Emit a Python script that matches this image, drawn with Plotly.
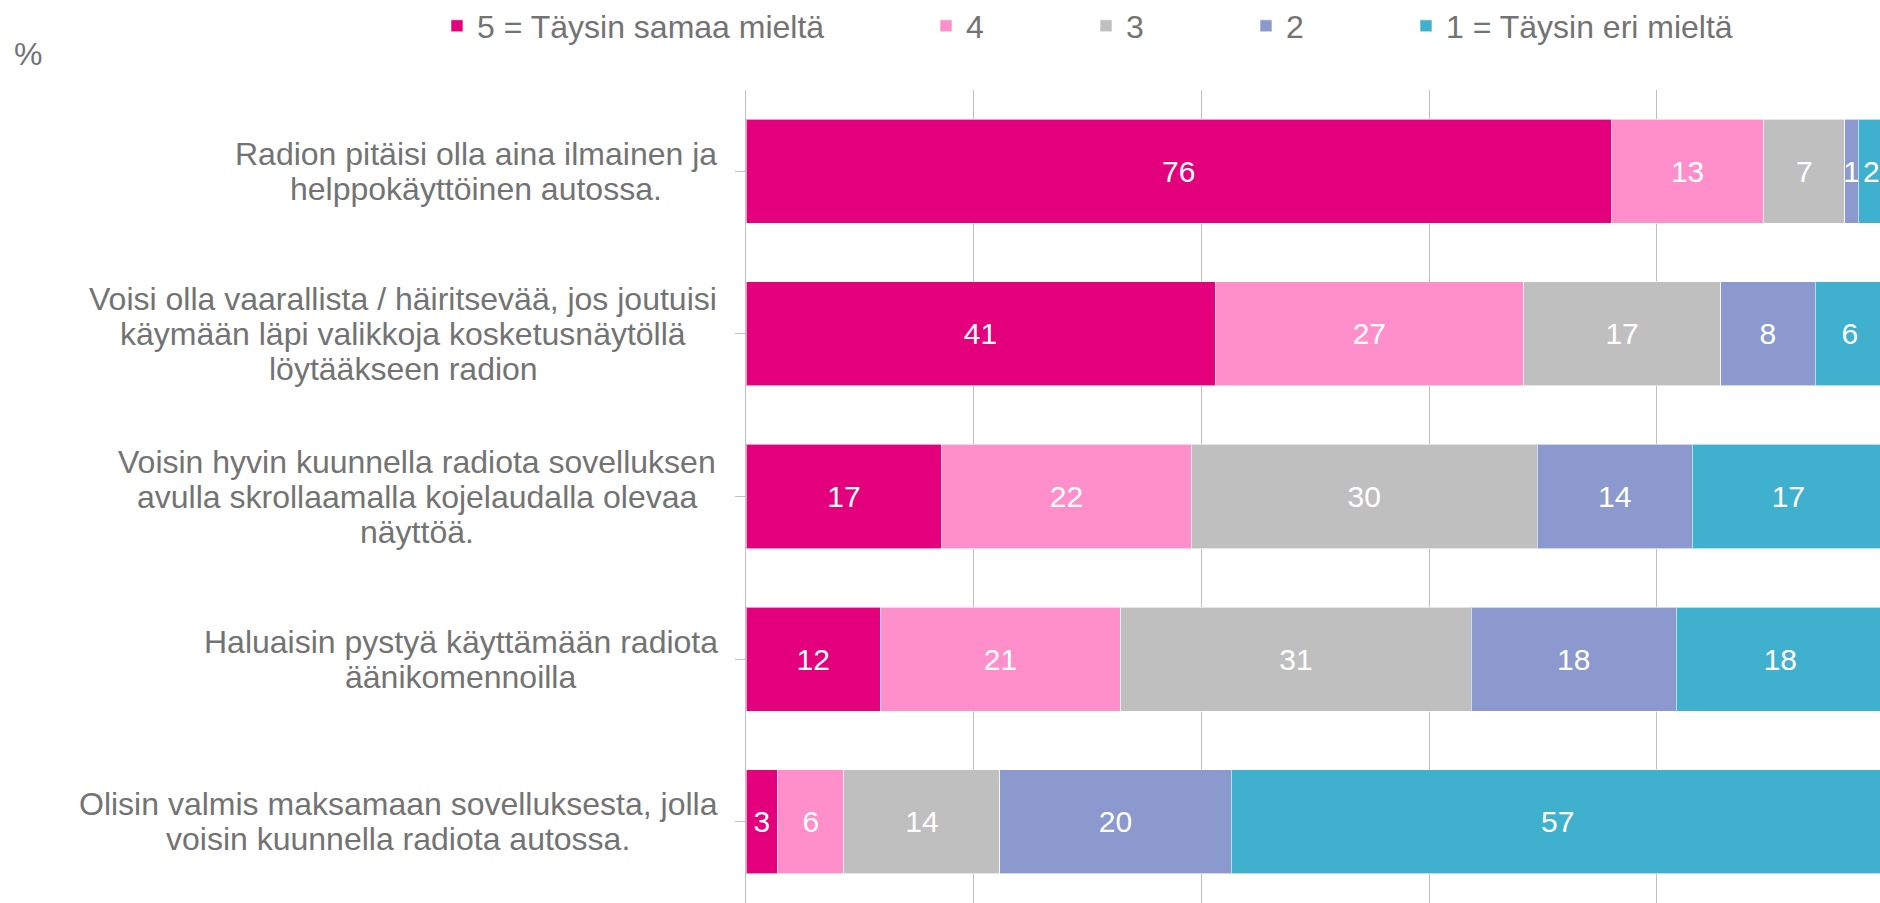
import plotly.graph_objects as go

categories = [
    "Radion pitäisi olla aina ilmainen ja<br>helppokäyttöinen autossa.",
    "Voisi olla vaarallista / häiritsevää, jos joutuisi<br>käymään läpi valikkoja kosketusnäytöllä<br>löytääkseen radion",
    "Voisin hyvin kuunnella radiota sovelluksen<br>avulla skrollaamalla kojelaudalla olevaa<br>näyttöä.",
    "Haluaisin pystyä käyttämään radiota<br>äänikomennoilla",
    "Olisin valmis maksamaan sovelluksesta, jolla<br>voisin kuunnella radiota autossa.",
]
series_names = ["5 = Täysin samaa mieltä", "4", "3", "2", "1 = Täysin eri mieltä"]
# bar lengths (labels show them rounded)
values_5 = [76.0, 41.2, 17.2, 11.8, 2.8]
values_4 = [13.4, 27.1, 21.9, 21.1, 5.8]
values_3 = [7.1, 17.3, 30.4, 30.8, 13.7]
values_2 = [1.2, 8.3, 13.6, 18.0, 20.3]
values_1 = [2.3, 6.1, 16.9, 18.3, 57.4]
series_values = [values_5, values_4, values_3, values_2, values_1]
colors = ["#E4007C", "#FF8FCA", "#BFBFBF", "#8C99CE", "#3FB1CE"]

W, H = 1880, 903
L, R, T, B = 746, 0, 90, 0
plot_w = W - L - R
plot_h = H - T - B

TXT = "#737373"
FONT = "Liberation Sans, Arial, sans-serif"

# layout: legend text start positions (px) and label block widths (px)
legend_text_x = [478, 967, 1127, 1287, 1447]
label_block_w = [482, 628, 600, 513, 638]
label_right = 717
line_gap = 35


def px_to_paper_x(px):
    return (px - L) / plot_w


fig = go.Figure()
for i, (name, vals, col) in enumerate(zip(series_names, series_values, colors)):
    lg = "legend" if i == 0 else f"legend{i+1}"
    fig.add_trace(go.Bar(
        y=list(range(len(categories))), x=vals, name=name, orientation="h",
        marker=dict(color=col, line=dict(color="rgba(255,255,255,0.6)", width=1)),
        texttemplate="%{x:.0f}", textposition="inside", insidetextanchor="middle",
        textangle=0, constraintext="none",
        textfont=dict(color="white", size=30, family=FONT),
        legend=lg, hovertemplate="%{x:.0f}<extra>" + name + "</extra>",
    ))

layout_legends = {}
for i in range(5):
    key = "legend" if i == 0 else f"legend{i+1}"
    layout_legends[key] = dict(
        xref="container", yref="container",
        x=(legend_text_x[i] - 41) / W, y=1 - 26 / H,
        xanchor="left", yanchor="middle",
        font=dict(size=32, color=TXT, family=FONT),
        bgcolor="rgba(0,0,0,0)", borderwidth=0,
        itemclick=False, itemdoubleclick=False,
    )

annotations = []
for i, c in enumerate(categories):
    lines = c.split("<br>")
    n = len(lines)
    cx = label_right - label_block_w[i] / 2
    for k, ln in enumerate(lines):
        annotations.append(dict(
            xref="paper", yref="y", x=px_to_paper_x(cx), y=i,
            xanchor="center", yanchor="middle", align="center",
            yshift=-(k - (n - 1) / 2) * line_gap,
            text=ln, showarrow=False,
            font=dict(size=32, color=TXT, family=FONT),
        ))
annotations.append(dict(
    xref="paper", yref="paper", x=px_to_paper_x(12), y=(H - 54 - B) / plot_h,
    xanchor="left", yanchor="middle", text="%", showarrow=False,
    font=dict(size=32, color=TXT, family=FONT),
))

fig.update_layout(
    width=W, height=H,
    margin=dict(l=L, r=R, t=T, b=B, pad=0, autoexpand=False),
    barmode="stack", bargap=0.36,
    plot_bgcolor="white", paper_bgcolor="white",
    showlegend=True,
    uniformtext=dict(mode="show", minsize=30),
    font=dict(family=FONT, color=TXT),
    xaxis=dict(range=[0, 99.6], showgrid=True, gridcolor="#BFBFBF", gridwidth=1,
               dtick=20, tick0=0, showticklabels=False, zeroline=False,
               showline=False, fixedrange=True),
    yaxis=dict(range=[len(categories) - 0.5, -0.5], showticklabels=False,
               tickmode="array", tickvals=list(range(len(categories))),
               tickson="boundaries", ticks="outside", ticklen=10,
               tickcolor="#BFBFBF", showline=True, linecolor="#BFBFBF", linewidth=1,
               showgrid=False, zeroline=False, fixedrange=True),
    annotations=annotations,
    **layout_legends,
)

fig.write_html(
    "out.html",
    config={"displayModeBar": False},
    post_script="document.body.style.margin='0';document.body.style.overflow='hidden';",
)
